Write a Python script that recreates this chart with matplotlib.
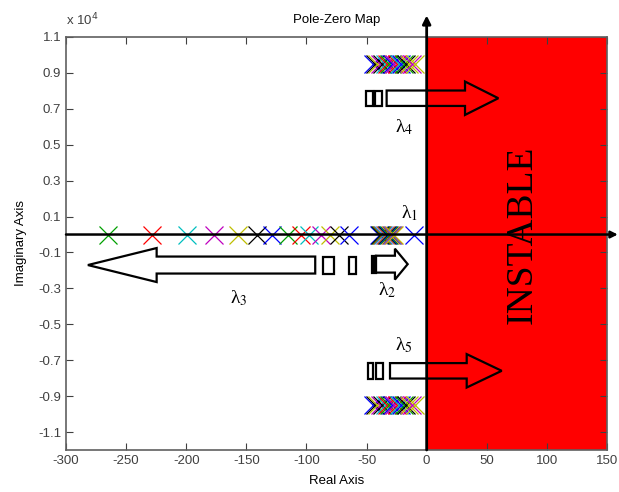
import numpy as np
import matplotlib
matplotlib.use('Agg')
import matplotlib.pyplot as plt
from matplotlib.patches import Polygon, Rectangle
from matplotlib.ticker import FuncFormatter

plt.rcParams['font.family'] = ['Liberation Sans', 'DejaVu Sans']
plt.rcParams['mathtext.fontset'] = 'stix'
plt.rcParams['axes.unicode_minus'] = False

# MATLAB-style colour cycle
mb, mg, mr, mc, mm, my, mk = '#0000ff', '#00a000', '#ff0000', '#00bfbf', '#bf00bf', '#bfbf00', '#000000'

# poles on the real axis (real part, colour)
real_re = [-264.8, -228.7, -199.6, -176.9, -156.7, -141.4, -128.9, -115.6, -104.8,
           -97.7, -88.2, -80.4, -72.7, -64.4,
           -40, -39, -38, -37, -36, -35, -34, -33, -32, -31, -30, -29, -28, -27,
           -10.6]
real_col = [mg, mr, mc, mm, my, mk, mb, mg, mr, mc, mm, my, mk, mb,
            mb, mk, mg, mr, mc, mm, my, mk, mb, mg, mr, mc, mm, my,
            mb]

# complex pole clusters (+/- imag)
cl_re = [-45, -43, -41, -39, -37, -35, -33, -31, -29, -27, -25, -23, -21, -19, -17, -15, -12, -10]
cl_col = [mb, mk, my, mm, mk, mc, mr, mg, mb, mm, mr, mc, mb, mg, mk, my, mm, my]
cl_im = 9500

fig = plt.figure(figsize=(6.19, 4.92), dpi=100)
ax = fig.add_axes([66/619, 42/492, (607-66)/619, (450-37)/492])

ax.axvspan(0, 150, color='#ff0000', zorder=0)

for x, c in zip(real_re, real_col):
    ax.plot(x, 0, 'x', color=c, ms=13, mew=0.9, zorder=3)
for x, c in zip(cl_re, cl_col):
    ax.plot(x, cl_im, 'x', color=c, ms=13, mew=0.9, zorder=3)
    ax.plot(x, -cl_im, 'x', color=c, ms=13, mew=0.9, zorder=3)

ax.set_xlim(-300, 150)
ax.set_ylim(-12000, 11000)
ax.set_xticks(np.arange(-300, 151, 50))
ax.set_yticks(np.arange(-11000, 11001, 2000))
ax.yaxis.set_major_formatter(FuncFormatter(lambda v, p: '%g' % round(v / 1e4, 1)))
ax.tick_params(direction='in', top=True, right=True, length=5, width=0.8,
               colors='#404040', labelsize=9.5, labelcolor='#404040')
for s in ax.spines.values():
    s.set_color('#606060')
    s.set_linewidth(1.2)

ax.set_title('Pole-Zero Map', fontsize=9.5, pad=10)
ax.set_xlabel('Real Axis', fontsize=9.5, labelpad=6)
ax.set_ylabel('Imaginary Axis', fontsize=9.5, labelpad=8)
fig.text(66/619, 1 - 20/492, r'x 10$^{4}$', fontsize=9.5, color='#404040',
         va='center', ha='left', math_fontfamily='dejavusans')

# axes arrows
ax.annotate('', xy=(0, 12200), xytext=(0, -12000), xycoords='data',
            arrowprops=dict(arrowstyle='-|>', lw=2, color='k', mutation_scale=12,
                            shrinkA=0, shrinkB=0), annotation_clip=False, zorder=4)
ax.annotate('', xy=(159, 0), xytext=(-300, 0), xycoords='data',
            arrowprops=dict(arrowstyle='-|>', lw=1.8, color='k', mutation_scale=10,
                            shrinkA=0, shrinkB=0), annotation_clip=False, zorder=4)


def block_arrow(tail, base, tip, y, bh, hh):
    pts = [(tail, y - bh), (base, y - bh), (base, y - hh), (tip, y),
           (base, y + hh), (base, y + bh), (tail, y + bh)]
    ax.add_patch(Polygon(pts, closed=True, fill=False, ec='k', lw=1.6, zorder=5,
                         joinstyle='miter'))


def box(x0, x1, y, bh, fc='none'):
    ax.add_patch(Rectangle((x0, y - bh), x1 - x0, 2 * bh, fc=fc, ec='k', lw=1.6, zorder=5))


# lambda 3 (left)
block_arrow(-92.7, -224.6, -281.8, -1700, 473, 947)
box(-86, -77.1, -1700, 473)
box(-64.9, -58.8, -1700, 473)
# lambda 2 (right, short)
block_arrow(-42.2, -26.4, -15.8, -1650, 470, 860)
box(-45.7, -42.2, -1650, 470, fc='k')
# lambda 4
block_arrow(-33.3, 31.9, 59.6, 7590, 430, 930)
box(-50.5, -44.9, 7590, 430)
box(-43.3, -37.2, 7590, 430)
# lambda 5
block_arrow(-30.5, 33.3, 62.4, -7590, 430, 930)
box(-48.6, -44.4, -7590, 430)
box(-42.2, -36.1, -7590, 430)

lam = dict(fontsize=14, ha='center', va='center', zorder=6, family='Liberation Serif')
ax.text(-14.6, 1200, 'λ$_1$', **lam)
ax.text(-32.8, -3090, 'λ$_2$', **lam)
ax.text(-156, -3530, 'λ$_3$', **lam)
ax.text(-18.8, 6000, 'λ$_4$', **lam)
ax.text(-18.8, -6150, 'λ$_5$', **lam)

ax.text(80, 0, 'INSTABLE', rotation=90, fontsize=27, family='Liberation Serif',
        ha='center', va='center', zorder=6)

fig.savefig('out.png', dpi=100)
